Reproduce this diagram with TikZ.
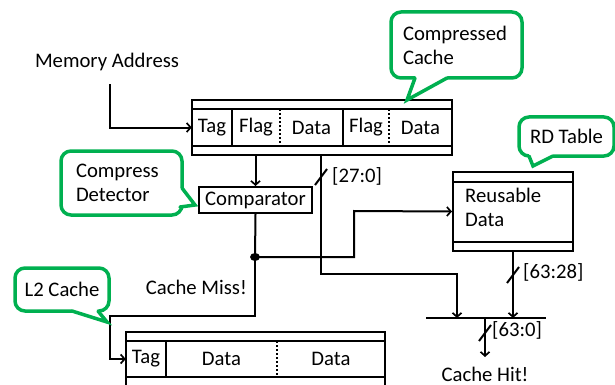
\documentclass[tikz,border=0pt]{standalone}
\usepackage{fontspec}
\setmainfont{Carlito}
\usetikzlibrary{arrows.meta}
\definecolor{gcol}{RGB}{0,176,80}
\tikzset{every picture/.style={x=1pt,y=-1pt}}
\tikzset{every node/.style={font=\fontsize{20.7}{24}\selectfont,inner sep=0pt}}
\tikzset{blk/.style={line width=2pt}}
\tikzset{edge/.style={blk,-{Straight Barb[length=4pt,width=9pt,line width=1.7pt]}}}
\tikzset{field/.style={minimum height=37}}
\tikzset{callout/.style={draw=gcol,line width=3.5pt,fill=white,rounded corners=10pt,align=left}}
\tikzset{tailline/.style={gcol,line width=3.5pt,line cap=round,line join=miter}}
\newcommand{\busw}[1]{\draw[blk] (#1) ++(-6,8) -- ++(12,-16);}

\begin{document}
\begin{tikzpicture}
\useasboundingbox (0,0) rectangle (615,385);
\clip (0,0) rectangle (615,385);

% compressed cache line
\node[draw,blk,minimum width=260,minimum height=55] (cc) at (322,127.5) {};
\draw[blk] (192,109) -- (452,109) (192,146) -- (452,146);
\draw[blk] (232,109) -- (232,146) (343,109) -- (343,146);
\draw[blk,dotted] (280,109) -- (280,146) (389,109) -- (389,146);
\node[field,minimum width=40] (tag) at (212,127.5) {Tag};
\node[field,minimum width=48] (flag1) at (256,127.5) {Flag};
\node[field,minimum width=63] (data1) at (311.5,127.5) {Data};
\node[field,minimum width=46] (flag2) at (366,127.5) {Flag};
\node[field,minimum width=63] (data2) at (420.5,127.5) {Data};

\node (ma) at (107,62) {Memory Address};
\draw[edge] ([xshift=3pt,yshift=-13pt]ma.south) |- (tag.west);

% comparator
\node[draw,blk,minimum width=113,minimum height=26] (cmp) at (255.5,200) {Comparator};
\draw[edge] (cmp.north |- cc.south) -- (cmp.north);
\coordinate (jn) at (255,257);
\fill (jn) ellipse (5 and 4);
\draw[blk] (cmp.south) -- (jn);

% RD table
\node[draw,blk,minimum width=120,minimum height=79] (rd) at (513,211.5) {};
\draw[blk] (453,182) -- (573,182) (453,242) -- (573,242);
\node[anchor=west,align=left] (rdtxt) at (465,207) {Reusable\\Data};
\draw[edge] (jn) -| (354,211) -- (rd.west);

% merge bus
\coordinate (busl) at (426,318);
\coordinate (busr) at (546,318);
\draw[blk] (busl) -- (busr);
\draw[edge] (cc.south -| 321,0) |- (457,274) -- (457,318);
\draw[edge] (rd.south) -- (513,318);
\busw{321,177}
\node[anchor=west] (w27) at (332,176) {[27:0]};
\busw{513,275}
\node[anchor=west] (w63a) at (523,272) {[63:28]};
\node (hit) at (485,374) {Cache Hit!};
\draw[edge] (485,318) -- (485,357);
\busw{485,333}
\node[anchor=west] (w63b) at (492,330) {[63:0]};

% L2 cache line
\draw[blk] (126,395) -- (126,332) -- (385,332) -- (385,395);
\draw[blk] (126,341) -- (385,341) (126,377) -- (385,377);
\draw[blk] (166,341) -- (166,377);
\draw[blk,dotted] (277,341) -- (277,377);
\node[field,minimum width=40] (l2tag) at (146,359) {Tag};
\node[field] (l2d1) at (221.5,359) {Data};
\node[field] (l2d2) at (331,359) {Data};
\node[anchor=east] (miss) at (247,287) {Cache Miss!};
\draw[edge] (jn) |- (110,316) |- (l2tag.west);

% callouts
\node[callout,minimum width=131,minimum height=66,text width=107,inner xsep=12pt] (ccc) at (456.5,45) {Compressed\\Cache};
\fill[white] (415,75.5) -- (415,78) -- (407,100) -- (447,78) -- (447,75.5) -- cycle;
\draw[tailline] (415,78) -- (407,100) -- (447,78);

\node[callout,minimum width=121,minimum height=64,text width=91,inner xsep=15pt] (cdc) at (121.5,183) {Compress\\Detector};
\fill[white] (179.5,188) -- (182,188) -- (195,205) -- (180,207) -- (178.5,205) -- cycle;
\draw[tailline] (182,188) -- (195,205) -- (180,207);

\node[callout,minimum width=95,minimum height=39,align=center] (rdc) at (566.5,136.5) {RD Table};
\fill[white] (529,153.5) -- (529,156) -- (533,166) -- (553,156) -- (553,153.5) -- cycle;
\draw[tailline] (529,156) -- (533,166) -- (553,156);

\node[callout,minimum width=94,minimum height=43,align=center] (l2c) at (62,289.5) {L2 Cache};
\fill[white] (72,308.5) -- (72,311) -- (107,322) -- (98,311) -- (98,308.5) -- cycle;
\draw[tailline] (72,311) -- (107,322) -- (98,311);
\end{tikzpicture}
\end{document}
